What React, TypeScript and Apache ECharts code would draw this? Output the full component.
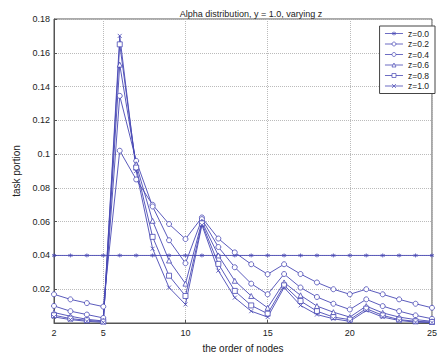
import React, { useEffect, useRef } from "react";
import * as echarts from "echarts";

const nodes = ["2","3","4","5","6","7","8","9","10","11","12","13","14","15","16","17","18","19","20","21","22","23","24","25"];
const z00 = [0.04,0.04,0.04,0.04,0.04,0.04,0.04,0.04,0.04,0.04,0.04,0.04,0.04,0.04,0.04,0.04,0.04,0.04,0.04,0.04,0.04,0.04,0.04,0.04];
const z02 = [0.017,0.014,0.0118,0.0097,0.102,0.085,0.070,0.0586,0.0497,0.0625,0.050,0.0418,0.0348,0.0289,0.0348,0.029,0.024,0.020,0.017,0.020,0.017,0.014,0.0114,0.009];
const z04 = [0.0101,0.007,0.005,0.003,0.1345,0.096,0.069,0.049,0.0354,0.0615,0.045,0.033,0.0233,0.017,0.029,0.021,0.0154,0.0114,0.008,0.014,0.010,0.007,0.0045,0.0025];
const z06 = [0.0062,0.004,0.0022,0.0012,0.153,0.094,0.0605,0.037,0.0233,0.060,0.040,0.025,0.016,0.009,0.024,0.0164,0.010,0.0064,0.0035,0.010,0.006,0.0035,0.002,0.001];
const z08 = [0.0046,0.0026,0.0016,0.0008,0.165,0.092,0.051,0.028,0.016,0.059,0.035,0.019,0.0104,0.0055,0.0223,0.013,0.007,0.0035,0.002,0.0085,0.0045,0.002,0.001,0.0006];
const z10 = [0.0036,0.002,0.001,0.0004,0.170,0.090,0.044,0.021,0.011,0.058,0.031,0.015,0.007,0.0035,0.021,0.0104,0.005,0.0025,0.001,0.0074,0.0035,0.0015,0.0005,0.0003];
const seriesNames = ["z=0.0","z=0.2","z=0.4","z=0.6","z=0.8","z=1.0"];
const xTicks = ["2","5","10","15","20","25"];

const LINE = "#4848b4";
const FONT = "Liberation Sans";
const STAR = "path://M0,-5L0,5M-4.3,-2.5L4.3,2.5M-4.3,2.5L4.3,-2.5";
const CROSS = "path://M-4,-4L4,4M-4,4L4,-4";

export default function App() {
  const ref = useRef<HTMLDivElement>(null);
  useEffect(() => {
    if (!ref.current) return;
    const chart = echarts.init(ref.current, null, { renderer: "svg" });
    const data = [z00, z02, z04, z06, z08, z10];
    const symbols = [STAR, "circle", "circle", "triangle", "rect", CROSS];
    const sizes = [4, 5, 5, 5, 5, 4];
    const showTick = (i: number) => xTicks.indexOf(nodes[i]) >= 0;
    chart.setOption({
      animation: false,
      title: {
        text: "Alpha distribution, y = 1.0, varying z",
        left: 246,
        textAlign: "center",
        top: 4,
        textStyle: { fontFamily: FONT, fontSize: 9, fontWeight: "normal", color: "#222" },
      },
      legend: {
        orient: "vertical",
        right: 5,
        top: 26,
        data: seriesNames,
        backgroundColor: "#fff",
        borderColor: "#444",
        borderWidth: 1,
        borderRadius: 0,
        padding: [3, 6, 3, 5],
        itemWidth: 18,
        itemHeight: 5,
        itemGap: 1.5,
        lineStyle: { width: 0.8 },
        itemStyle: { borderWidth: 0.7 },
        textStyle: { fontFamily: FONT, fontSize: 8.5, color: "#222" },
      },
      grid: {
        left: 54,
        right: 3,
        top: 19,
        bottom: 37,
        show: true,
        borderColor: "#555",
        borderWidth: 1,
      },
      xAxis: {
        type: "category",
        data: nodes,
        boundaryGap: false,
        name: "the order of nodes",
        nameLocation: "middle",
        nameGap: 20,
        nameTextStyle: { fontFamily: FONT, fontSize: 10, color: "#222" },
        axisLine: { lineStyle: { color: "#555" } },
        axisTick: { inside: true, length: 3, interval: (i: number) => showTick(i), lineStyle: { color: "#555" } },
        axisLabel: {
          interval: (i: number) => showTick(i),
          fontFamily: FONT,
          fontSize: 9,
          color: "#222",
          margin: 5,
        },
        splitLine: {
          show: true,
          interval: (i: number) => showTick(i),
          lineStyle: { type: "dotted", color: "#bbb" },
        },
      },
      yAxis: {
        type: "value",
        min: 0,
        max: 0.18,
        interval: 0.02,
        name: "task portion",
        nameLocation: "middle",
        nameGap: 28,
        nameTextStyle: { fontFamily: FONT, fontSize: 10, color: "#222" },
        axisLine: { show: true, lineStyle: { color: "#555" } },
        axisTick: { show: true, inside: true, length: 3, lineStyle: { color: "#555" } },
        axisLabel: {
          fontFamily: FONT,
          fontSize: 9,
          color: "#222",
          margin: 4,
          formatter: (v: number) => (v === 0 ? "" : String(+v.toFixed(2))),
        },
        splitLine: { show: true, lineStyle: { type: "dotted", color: "#bbb" } },
      },
      series: seriesNames.map((name, k) => ({
        name,
        type: "line",
        data: data[k],
        symbol: symbols[k],
        symbolSize: sizes[k],
        showAllSymbol: true,
        lineStyle: { color: LINE, width: 0.9 },
        itemStyle: { color: k === 0 || k === 5 ? LINE : "#fff", borderColor: LINE, borderWidth: 0.8 },
        emphasis: { disabled: true },
      })),
    });
    return () => chart.dispose();
  }, []);
  return <div ref={ref} style={{ width: 440, height: 360, position: "absolute", left: 0, top: 0 }} />;
}
